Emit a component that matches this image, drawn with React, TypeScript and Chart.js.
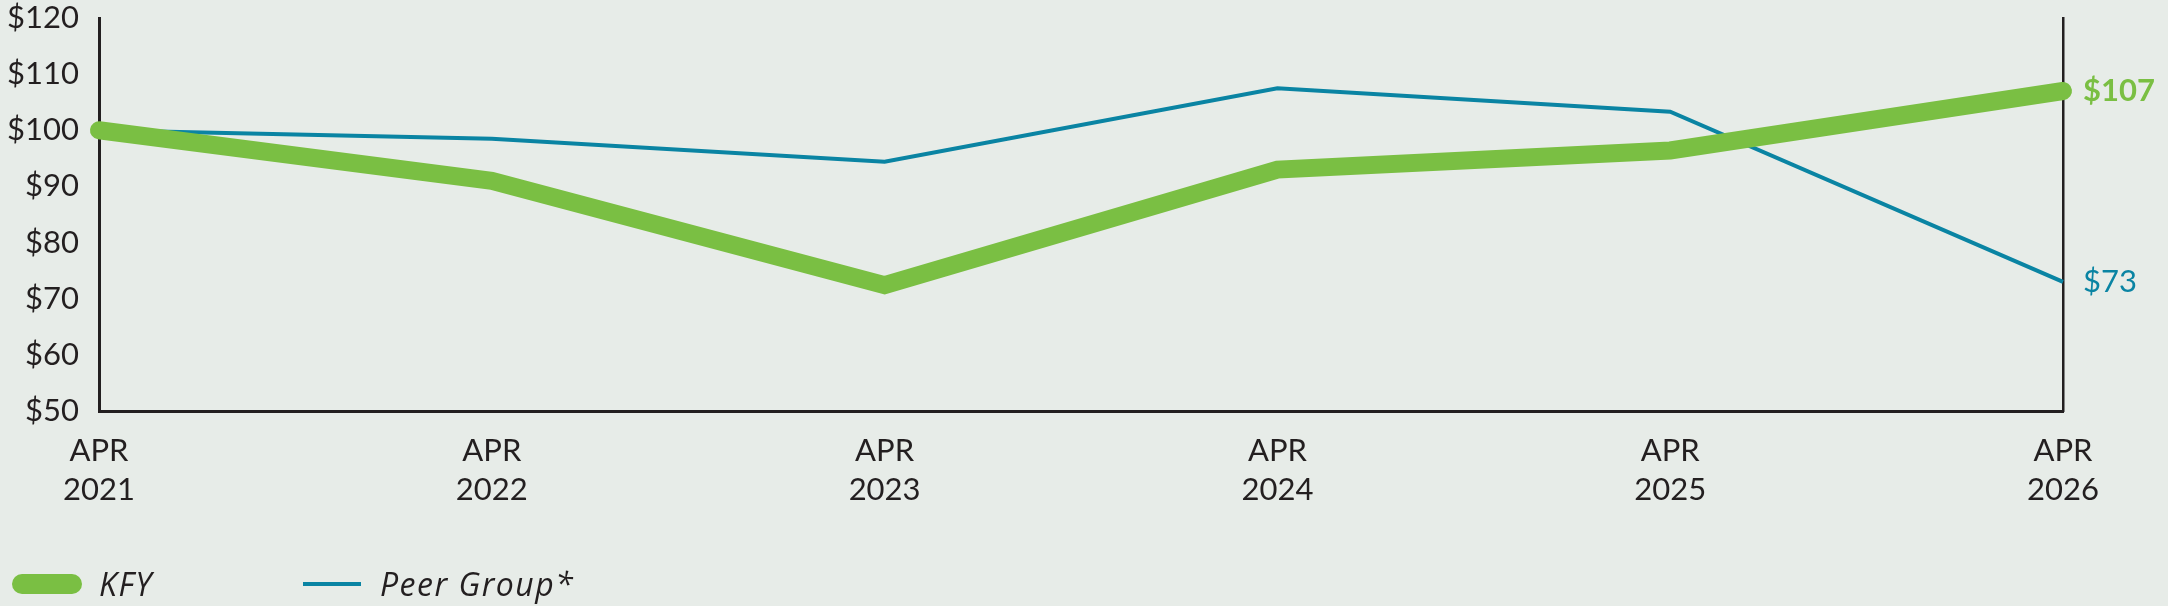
import React, { useEffect, useRef } from "react";
import { Chart, registerables } from "chart.js";

Chart.register(...registerables);

const years = ["2021", "2022", "2023", "2024", "2025", "2026"];
const kfyValues = [100, 91, 72.4, 93, 96.4, 107];
const peerValues = [100, 98.5, 94.4, 107.5, 103.3, 73];
const yTicks = [50, 60, 70, 80, 90, 100, 110, 120];

const GREEN = "#7abf43";
const BLUE = "#0a84a3";
const INK = "#231f20";
const BG = "#e7ece8";
const FONT = "Lato, 'Noto Sans', sans-serif";
const LEGEND_FONT = "'Open Sans', Lato, sans-serif";

// draws the "$107" / "$73" labels next to the last point of each line
const endLabels = {
  id: "endLabels",
  afterDatasetsDraw(chart: any) {
    const ctx = chart.ctx;
    ctx.save();
    ctx.textBaseline = "middle";
    ctx.textAlign = "left";
    chart.data.datasets.forEach((ds: any, i: number) => {
      const meta = chart.getDatasetMeta(i);
      const pt = meta.data[meta.data.length - 1];
      if (!pt) return;
      const v = ds.data[ds.data.length - 1];
      ctx.fillStyle = ds.borderColor;
      ctx.font = `${i === 0 ? "bold " : ""}31px ${FONT}`;
      ctx.fillText("$" + Math.round(v), pt.x + 20, pt.y);
    });
    ctx.restore();
  },
};

// let the top tick label hang over the plot edge instead of pushing it down
const noVerticalPadding = (scale: any) => {
  scale.paddingTop = 0;
  scale.paddingBottom = 0;
};

export default function App() {
  const canvasRef = useRef<HTMLCanvasElement | null>(null);
  const chartRef = useRef<Chart | null>(null);

  useEffect(() => {
    document.body.style.margin = "0";
    document.body.style.background = BG;
    if (!canvasRef.current) return;
    if (chartRef.current) chartRef.current.destroy();

    chartRef.current = new Chart(canvasRef.current, {
      type: "line",
      data: {
        labels: years.map((y) => ["APR", y]),
        datasets: [
          {
            label: "KFY",
            data: kfyValues,
            borderColor: GREEN,
            borderWidth: 18,
            borderCapStyle: "round",
            borderJoinStyle: "miter",
            pointRadius: 0,
            tension: 0,
            clip: false as any,
          },
          {
            label: "Peer Group*",
            data: peerValues,
            borderColor: BLUE,
            borderWidth: 4,
            borderJoinStyle: "miter",
            pointRadius: 0,
            tension: 0,
            clip: false as any,
          },
        ],
      },
      options: {
        responsive: false,
        animation: false,
        layout: { padding: { top: 18, right: 105, left: 0, bottom: 0 } },
        plugins: {
          legend: { display: false },
          tooltip: { enabled: false },
        },
        scales: {
          x: {
            type: "category",
            offset: false,
            grid: { display: false, drawTicks: false },
            border: { display: true, color: INK, width: 3 },
            ticks: {
              color: INK,
              font: { family: FONT, size: 31, lineHeight: 1.26 },
              padding: 20,
              maxRotation: 0,
              autoSkip: false,
            },
            afterFit: (scale: any) => {
              scale.height = 195;
            },
          },
          y: {
            min: 50,
            max: 120,
            afterBuildTicks: (scale: any) => {
              scale.ticks = yTicks.map((v) => ({ value: v }));
            },
            grid: { display: false, drawTicks: false },
            border: { display: true, color: INK, width: 3 },
            ticks: {
              color: INK,
              font: { family: FONT, size: 31 },
              padding: 20,
              callback: (v: any) => "$" + v,
            },
            afterFit: (scale: any) => {
              scale.width = 99;
              noVerticalPadding(scale);
            },
          },
          yRight: {
            position: "right",
            min: 50,
            max: 120,
            grid: { display: false, drawTicks: false },
            border: { display: true, color: INK, width: 2.5 },
            ticks: { display: false },
            afterFit: (scale: any) => {
              scale.width = 0;
              noVerticalPadding(scale);
            },
          },
        },
      },
      plugins: [endLabels],
    });

    return () => {
      if (chartRef.current) {
        chartRef.current.destroy();
        chartRef.current = null;
      }
    };
  }, []);

  const legendText: React.CSSProperties = {
    position: "absolute",
    top: 566,
    fontFamily: LEGEND_FONT,
    fontStyle: "italic",
    fontSize: 32,
    lineHeight: "36px",
    letterSpacing: "1.5px",
    color: INK,
  };

  return (
    <div style={{ position: "relative", width: 2168, height: 606, background: BG }}>
      <canvas ref={canvasRef} width={2168} height={606} />
      <div
        style={{
          position: "absolute",
          left: 12,
          top: 574,
          width: 70,
          height: 20,
          borderRadius: 10,
          background: GREEN,
        }}
      />
      <div style={{ ...legendText, left: 99 }}>KFY</div>
      <div
        style={{
          position: "absolute",
          left: 303,
          top: 582,
          width: 58,
          height: 4,
          background: BLUE,
        }}
      />
      <div style={{ ...legendText, left: 380 }}>Peer Group*</div>
    </div>
  );
}
